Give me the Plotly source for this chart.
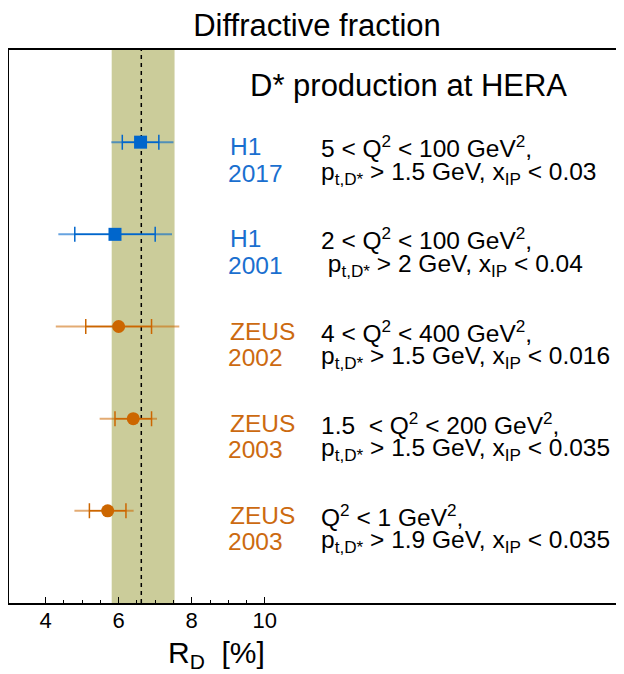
import plotly.graph_objects as go

# ---- data ----
experiments = ["H1", "H1", "ZEUS", "ZEUS", "ZEUS"]
years = ["2017", "2001", "2002", "2003", "2003"]
rows = [5, 4, 3, 2, 1]
values = [6.6, 5.9, 6.0, 6.4, 5.7]
stat_err = [0.5, 1.1, 0.9, 0.5, 0.5]
tot_err_plus = [0.9, 1.56, 1.66, 0.65, 0.71]
tot_err_minus = [0.8, 1.55, 1.72, 0.92, 0.91]
cond_line1 = [
    "5 &lt; Q<sup>2</sup> &lt; 100 GeV<sup>2</sup>,",
    "2 &lt; Q<sup>2</sup> &lt; 100 GeV<sup>2</sup>,",
    "4 &lt; Q<sup>2</sup> &lt; 400 GeV<sup>2</sup>,",
    "1.5\u00a0 &lt; Q<sup>2</sup> &lt; 200 GeV<sup>2</sup>,",
    "Q<sup>2</sup> &lt; 1 GeV<sup>2</sup>,",
]
cond_line2 = [
    "p<sub>t,D*</sub> &gt; 1.5 GeV, x<sub>IP</sub> &lt; 0.03",
    "\u00a0p<sub>t,D*</sub> &gt; 2 GeV, x<sub>IP</sub> &lt; 0.04",
    "p<sub>t,D*</sub> &gt; 1.5 GeV, x<sub>IP</sub> &lt; 0.016",
    "p<sub>t,D*</sub> &gt; 1.5 GeV, x<sub>IP</sub> &lt; 0.035",
    "p<sub>t,D*</sub> &gt; 1.9 GeV, x<sub>IP</sub> &lt; 0.035",
]
band_lo, band_mean, band_hi = 5.81, 6.62, 7.53
x_ticks = [4, 6, 8, 10]
x_minor = [4.5, 5, 5.5, 6.5, 7, 7.5, 8.5, 9, 9.5]

FONT = "Liberation Sans, Arial, sans-serif"
style = {
    "H1": dict(color="#0066cc", light="rgba(0,102,204,0.6)", text="#1a6fcf", symbol="square"),
    "ZEUS": dict(color="#cc6600", light="rgba(204,102,0,0.55)", text="#cc6a10", symbol="circle"),
}

# page body has an 8px margin; figure is sized/positioned to compensate
OFF = 8
W, H = 624 - OFF, 674 - OFF
PL, PT, PW, PH = 9, 50, 614, 553  # plot area in page pixels

fig = go.Figure()

for i in range(len(values)):
    s = style[experiments[i]]
    # total uncertainty (lighter)
    fig.add_trace(go.Scatter(
        x=[values[i]], y=[rows[i]], mode="markers",
        marker=dict(size=1, color="rgba(0,0,0,0)"),
        error_x=dict(type="data", symmetric=False, array=[tot_err_plus[i]],
                     arrayminus=[tot_err_minus[i]], color=s["light"],
                     thickness=2, width=0),
        showlegend=False, hoverinfo="skip"))
    # statistical uncertainty + marker
    fig.add_trace(go.Scatter(
        x=[values[i]], y=[rows[i]], mode="markers",
        marker=dict(size=13, color=s["color"], symbol=s["symbol"], line=dict(width=0)),
        error_x=dict(type="data", array=[stat_err[i]], color=s["color"],
                     thickness=1.5, width=7.5),
        showlegend=False))

# band and mean line
fig.add_shape(type="rect", xref="x", yref="paper", x0=band_lo, x1=band_hi, y0=0, y1=1,
              fillcolor="#cbcc9a", line=dict(width=0), layer="below")
fig.add_shape(type="line", xref="x", yref="paper", x0=band_mean, x1=band_mean, y0=0, y1=1,
              line=dict(color="black", width=1.5, dash="4px,4px"), layer="below")

def px2paper(px):
    return (px - PL) / PW

def py2paper(py):
    return 1 - (py - PT) / PH

for i in range(len(values)):
    s = style[experiments[i]]
    for txt, xp, ysh, col in [
        (experiments[i], 228, -4.5, s["text"]),
        (years[i], 226, -31, s["text"]),
        (cond_line1[i], 319, -4.5, "black"),
        (cond_line2[i], 319, -31, "black"),
    ]:
        fig.add_annotation(x=px2paper(xp), xref="paper", y=rows[i], yref="y",
                           text=txt, showarrow=False, xanchor="left", yanchor="middle",
                           yshift=ysh, font=dict(family=FONT, size=24.5, color=col))

fig.add_annotation(x=px2paper(408), xref="paper", y=py2paper(85.5), yref="paper",
                   text="D* production at HERA", showarrow=False, xanchor="center",
                   yanchor="middle", font=dict(family=FONT, size=31, color="black"))

# x-axis title (placed under the labelled part of the axis)
fig.add_annotation(x=px2paper(216.5), xref="paper", y=py2paper(654), yref="paper",
                   text="R<sub>D</sub>\u00a0 [%]", showarrow=False, xanchor="center",
                   yanchor="middle", font=dict(family=FONT, size=30, color="black"))

fig.update_layout(
    template="none",
    width=W, height=H,
    margin=dict(l=PL - OFF, r=W - (PL - OFF) - PW, t=PT - OFF, b=H - (PT - OFF) - PH,
                autoexpand=False),
    paper_bgcolor="white", plot_bgcolor="white",
    title=dict(text="Diffractive fraction", x=(317 - OFF) / W, xanchor="center",
               y=1 - (25 - OFF) / H, yanchor="middle",
               font=dict(family=FONT, size=31, color="black")),
    xaxis=dict(range=[3, 19.8], tickvals=x_ticks, ticktext=[str(v) for v in x_ticks],
               automargin=False,
               ticks="inside", ticklen=6, tickwidth=1, tickcolor="black",
               minor=dict(tickvals=x_minor, ticks="inside", ticklen=3, tickcolor="black"),
               showgrid=False, zeroline=False, showline=True, linecolor="black",
               linewidth=1.5, mirror=True, ticklabelstandoff=-3,
               tickfont=dict(family=FONT, size=22, color="black")),
    yaxis=dict(range=[0, 6], showticklabels=False, ticks="", showgrid=False,
               automargin=False,
               zeroline=False, showline=True, linecolor="black", linewidth=1.5),
)

fig.write_html("out.html")
